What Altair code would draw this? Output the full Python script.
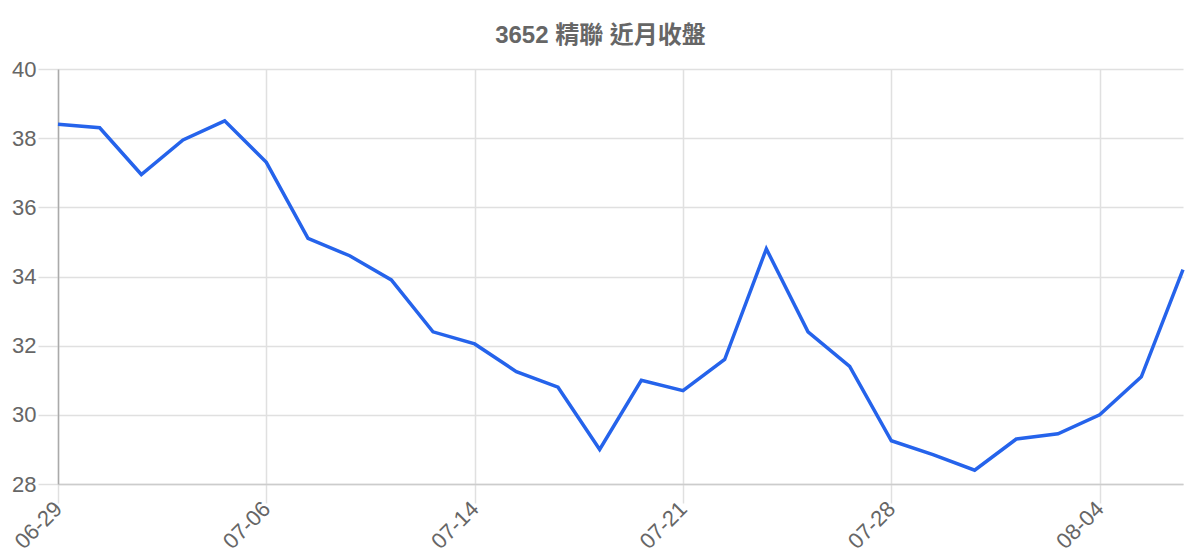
import altair as alt
import pandas as pd

dates = ["06-29", "06-30", "07-01", "07-02", "07-03", "07-06", "07-07", "07-08",
         "07-09", "07-10", "07-14", "07-15", "07-16", "07-17", "07-20", "07-21",
         "07-22", "07-23", "07-24", "07-27", "07-28", "07-29", "07-30", "07-31",
         "08-03", "08-04", "08-05", "08-06"]
closes = [38.4, 38.3, 36.95, 37.95, 38.5, 37.3, 35.1, 34.6,
          33.9, 32.4, 32.05, 31.25, 30.8, 29.0, 31.0, 30.7,
          31.6, 34.8, 32.4, 31.4, 29.25, 28.85, 28.4, 29.3,
          29.45, 30.0, 31.1, 34.2]
label_dates = ["06-29", "07-06", "07-14", "07-21", "07-28", "08-04"]
y_ticks = [28, 30, 32, 34, 36, 38, 40]
title_text = "3652 精聯 近月收盤"

df = pd.DataFrame({"date": dates, "close": closes})

FONT = "Liberation Sans, Noto Sans CJK TC, sans-serif"

chart = alt.Chart(df).mark_line(color="#2563eb", strokeWidth=3.5, strokeJoin="miter").encode(
    x=alt.X("date:O", sort=None, title=None,
            scale=alt.Scale(type="point", padding=0),
            axis=alt.Axis(values=label_dates, labelAngle=-45, labelAlign="right",
                          labelBaseline="middle", grid=True, gridColor="#e0e0e0",
                          gridWidth=1.5, tickColor="#e0e0e0", tickWidth=1.5,
                          tickSize=19, labelPadding=2,
                          domainColor="#cccccc", domainWidth=1.5, labelColor="#666666",
                          labelFontSize=22, labelFont=FONT)),
    y=alt.Y("close:Q", title=None,
            scale=alt.Scale(domain=[28, 40], nice=False, zero=False),
            axis=alt.Axis(values=y_ticks, grid=True, gridColor="#e0e0e0",
                          gridWidth=1.5, tickColor="#e0e0e0", tickWidth=1.5,
                          tickSize=20, labelPadding=2,
                          domainColor="#aaaaaa", domainWidth=1.5, labelColor="#666666",
                          labelFontSize=22, labelFont=FONT)),
).properties(
    width=1125,
    height=415,
    autosize="none",
    padding={"left": 50, "top": 61, "right": 9, "bottom": 70},
    title=alt.TitleParams(title_text, fontSize=24, fontWeight="bold", color="#666666",
                          font=FONT, offset=10, dx=-20, anchor="middle"),
).configure_view(stroke=None)

chart.save("out.html", embed_options={"renderer": "svg", "actions": False})
